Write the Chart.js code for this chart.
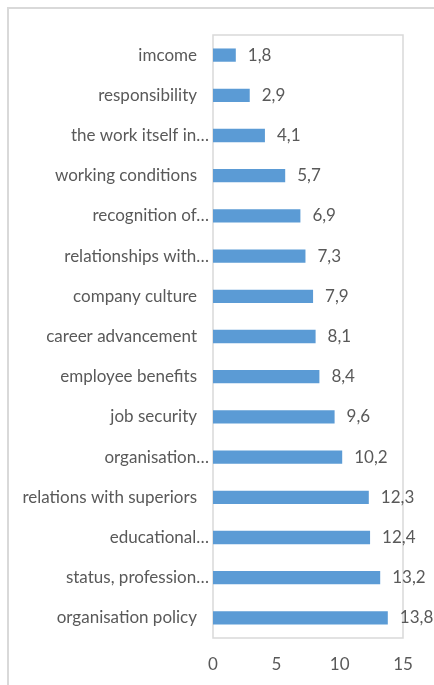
<!DOCTYPE html>
<html>
<head>
<meta charset="utf-8">
<script src="https://cdn.jsdelivr.net/npm/chart.js@4"></script>
<style>
  html, body { margin: 0; padding: 0; background: #fff; overflow: hidden; }
  #wrap { position: relative; width: 434px; height: 685px; }
  #frame { position: absolute; left: 7px; top: 7px; width: 600px; height: 900px;
           border: 2px solid #d9d9d9; box-sizing: border-box; }
  canvas { position: absolute; left: 0; top: 0; }
</style>
</head>
<body>
<div id="wrap">
  <div id="frame"></div>
  <canvas id="data-chart" width="434" height="685"></canvas>
</div>
<script>
// 카테고리와 값
const categories = [
    'imcome',
    'responsibility',
    'the work itself in…',
    'working conditions',
    'recognition of…',
    'relationships with…',
    'company culture',
    'career advancement',
    'employee benefits',
    'job security',
    'organisation…',
    'relations with superiors',
    'educational…',
    'status, profession…',
    'organisation policy'
];
const values = [1.8, 2.9, 4.1, 5.7, 6.9, 7.3, 7.9, 8.1, 8.4, 9.6, 10.2, 12.3, 12.4, 13.2, 13.8];
const xTicks = [0, 5, 10, 15];

const textColor = '#595959';
const fontFamily = 'Lato, "Open Sans", sans-serif';

// 플롯 테두리
const plotBorder = {
    id: 'plotBorder',
    beforeDatasetsDraw(chart) {
        const a = chart.chartArea;
        const ctx = chart.ctx;
        ctx.save();
        ctx.strokeStyle = '#d9d9d9';
        ctx.lineWidth = 1.5;
        ctx.strokeRect(a.left, a.top, a.right - a.left, a.bottom - a.top);
        ctx.restore();
    }
};

// 카테고리 라벨 - 잘린 라벨(…)은 플롯에 더 가깝게
const categoryLabels = {
    id: 'categoryLabels',
    afterDraw(chart) {
        const ctx = chart.ctx;
        const yScale = chart.scales.y;
        const left = chart.chartArea.left;
        ctx.save();
        ctx.fillStyle = textColor;
        ctx.font = '17px ' + fontFamily;
        ctx.textAlign = 'right';
        ctx.textBaseline = 'middle';
        categories.forEach((label, i) => {
            const offset = label.endsWith('…') ? 4 : 16;
            ctx.fillText(label, left - offset, yScale.getPixelForValue(i));
        });
        ctx.restore();
    }
};

// 값 라벨 (쉼표 소수점)
const valueLabels = {
    id: 'valueLabels',
    afterDatasetsDraw(chart) {
        const ctx = chart.ctx;
        const meta = chart.getDatasetMeta(0);
        ctx.save();
        ctx.fillStyle = textColor;
        ctx.font = '17px ' + fontFamily;
        ctx.textAlign = 'left';
        ctx.textBaseline = 'middle';
        meta.data.forEach((bar, i) => {
            const txt = values[i].toFixed(1).replace('.', ',');
            ctx.fillText(txt, bar.x + 12, bar.y);
        });
        ctx.restore();
    }
};

const ctx = document.getElementById('data-chart').getContext('2d');
new Chart(ctx, {
    type: 'bar',
    data: {
        labels: categories,
        datasets: [{
            data: values,
            backgroundColor: '#5b9bd5',
            borderWidth: 0,
            barPercentage: 0.33,
            categoryPercentage: 1
        }]
    },
    options: {
        indexAxis: 'y',
        responsive: false,
        animation: false,
        layout: { padding: { top: 35, right: 31, left: 0, bottom: 0 } },
        plugins: {
            legend: { display: false },
            tooltip: { enabled: false }
        },
        scales: {
            x: {
                min: 0,
                max: 15,
                afterBuildTicks: (scale) => { scale.ticks = xTicks.map(v => ({ value: v })); },
                afterFit: (scale) => { scale.height = 47; },
                grid: { display: false, drawTicks: false },
                border: { display: false },
                ticks: { color: textColor, padding: 16, font: { size: 17, family: fontFamily } }
            },
            y: {
                afterFit: (scale) => { scale.width = 213; },
                grid: { display: false, drawTicks: false },
                border: { display: false },
                ticks: { display: false }
            }
        }
    },
    plugins: [plotBorder, categoryLabels, valueLabels]
});
</script>
</body>
</html>
